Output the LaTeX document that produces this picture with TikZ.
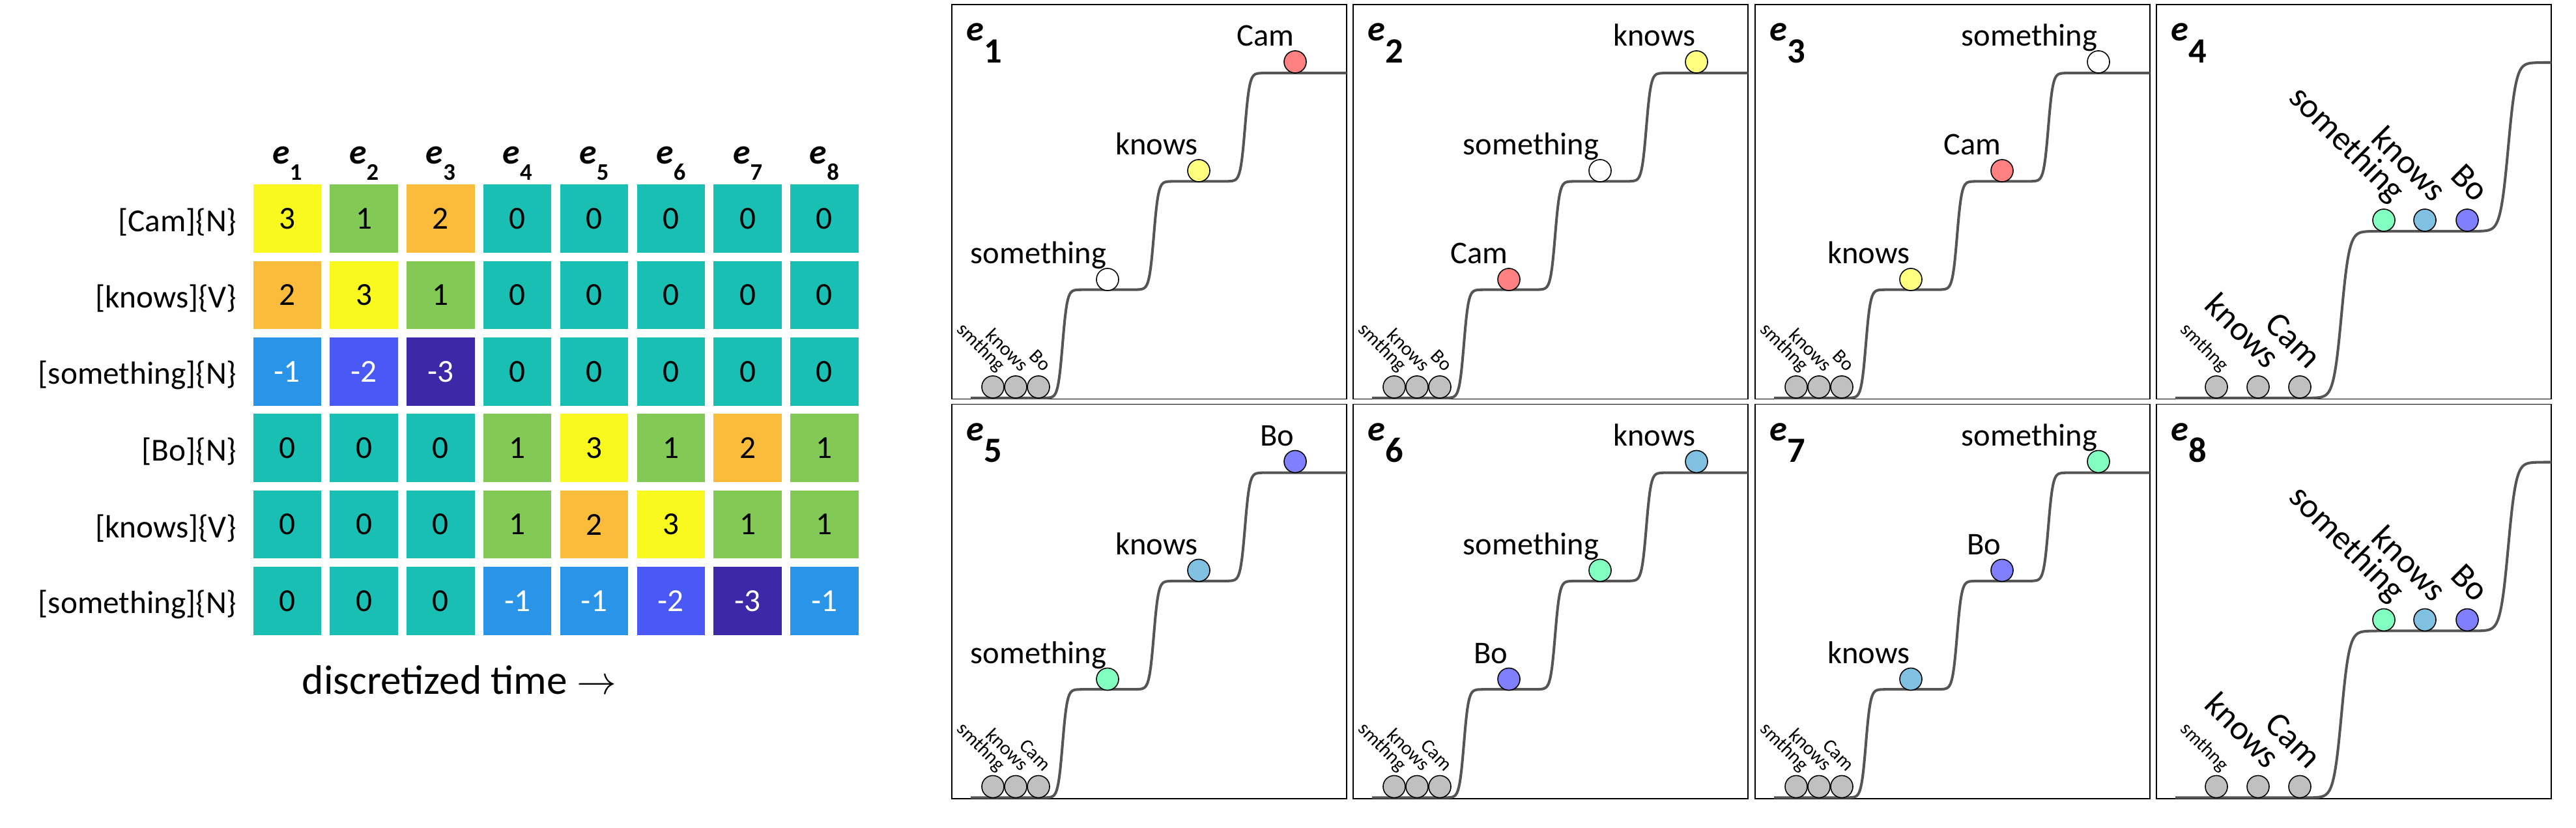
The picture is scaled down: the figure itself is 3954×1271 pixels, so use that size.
\documentclass[tikz,border=0pt]{standalone}
\usepackage{fontspec}
\setmainfont{Carlito}
\usepackage{xcolor}
\usepackage{tikz}
\usetikzlibrary{positioning}

\definecolor{valyellow}{HTML}{F9F920}
\definecolor{valorange}{HTML}{FBBC3C}
\definecolor{valgreen}{HTML}{82CA55}
\definecolor{valteal}{HTML}{19BFB3}
\definecolor{valblue}{HTML}{2A95E8}
\definecolor{valindigo}{HTML}{4A58F5}
\definecolor{valpurple}{HTML}{3D28A8}
\definecolor{ballred}{HTML}{FF8080}
\definecolor{ballyellow}{HTML}{FFFF80}
\definecolor{ballmint}{HTML}{80FFC0}
\definecolor{balllight}{HTML}{80C0E0}
\definecolor{ballviolet}{HTML}{8080FF}
\definecolor{ballgray}{HTML}{C0C0C0}
\definecolor{stairgray}{HTML}{555555}

\newcommand{\hdrlabel}[1]{{\fontsize{15.3}{18}\selectfont\itshape e}\raisebox{-7.1pt}{\fontsize{10.4}{12}\selectfont #1}}
\newcommand{\paneltitle}[1]{{\itshape e}\raisebox{-9.5pt}{#1}}

\tikzset{
  cell/.style={minimum size=1.045cm, inner sep=0pt, font=\fontsize{14}{17}\selectfont},
  val3/.style={fill=valyellow},
  val2/.style={fill=valorange},
  val1/.style={fill=valgreen},
  val0/.style={fill=valteal},
  val-1/.style={fill=valblue, text=white},
  val-2/.style={fill=valindigo, text=white},
  val-3/.style={fill=valpurple, text=white},
  rowlabel/.style={anchor=east, inner sep=0pt, font=\fontsize{14}{17}\selectfont},
  colhead/.style={anchor=base, inner sep=0pt, font=\bfseries},
  panelbox/.style={draw=black, line width=0.45pt},
  ptitle/.style={anchor=base west, inner sep=0pt, font=\fontsize{15.5}{18}\selectfont\bfseries},
  stairline/.style={draw=stairgray, line width=1.15pt, line join=round},
  ball/.style={circle, draw=black, line width=0.45pt, minimum size=0.34cm, inner sep=0pt},
  word/.style={anchor=base east, inner sep=0pt, font=\fontsize{13.8}{16}\selectfont},
  tinyword/.style={anchor=base east, inner sep=0pt, rotate=-45, font=\fontsize{8.5}{10}\selectfont},
  bigword/.style={anchor=base east, inner sep=0pt, rotate=-45, font=\fontsize{15}{18}\selectfont},
  declare function={sig(\z)=1/(1+exp(-max(-9,min(9,\z))));}
}

\begin{document}
\begin{tikzpicture}[x=0.01cm, y=-0.01cm]
  \fill[white] (0,0) rectangle (3954,1271);

  \foreach \vals [count=\r from 0] in {{3,1,2,0,0,0,0,0},{2,3,1,0,0,0,0,0},{-1,-2,-3,0,0,0,0,0},
      {0,0,0,1,3,1,2,1},{0,0,0,1,2,3,1,1},{0,0,0,-1,-1,-2,-3,-1}}
    \foreach \v [count=\c from 0] in \vals
      \node[cell, val\v] (m\r\c) at ({440.8+117.8*\c}, {335.5+117.4*\r}) {\v};
  \foreach \lab [count=\r from 0] in {{[Cam]\{N\}},{[knows]\{V\}},{[something]\{N\}},
      {[Bo]\{N\}},{[knows]\{V\}},{[something]\{N\}}}
    \node[rowlabel] (lab\r) at (364, {341+117.4*\r}) {\lab};
  \foreach \c in {1,...,8}
    \node[colhead] (head\c) at ({440.8+117.8*(\c-1)}, 252) {\hdrlabel{\c}};
  \node[anchor=base, inner sep=0pt, font=\fontsize{18}{22}\selectfont] (time) at (705,1066) {discretized time $\rightarrow$};

  \foreach \ox/\oy/\n/\wa/\ca/\wb/\cb/\wc/\cc/\wg in {
      1461/7/1/Cam/ballred/knows/ballyellow/something/white/Bo,
      2077/7/2/knows/ballyellow/something/white/Cam/ballred/Bo,
      2694/7/3/something/white/Cam/ballred/knows/ballyellow/Bo,
      1461/620.5/5/Bo/ballviolet/knows/balllight/something/ballmint/Cam,
      2077/620.5/6/knows/balllight/something/ballmint/Bo/ballviolet/Cam,
      2694/620.5/7/something/ballmint/Bo/ballviolet/knows/balllight/Cam} {
    \begin{scope}[shift={(\ox,\oy)}]
      \draw[panelbox] (0,0) rectangle (606,605.5);
      \node[ptitle] (title\n) at (22,56) {\paneltitle{\n}};
      \draw[stairline] plot[domain=29:606, samples=400]
        (\x, {604-166.3*(sig((\x-170)/3.5)+sig((\x-310)/3.5)+sig((\x-450)/3.5))});
      \node[ball, fill=\ca] (top\n) at (527,88) {};
      \node[ball, fill=\cb] (mid\n) at (379,255) {};
      \node[ball, fill=\cc] (low\n) at (239,422) {};
      \node[word] (wtop\n) at (526,64) {\wa};
      \node[word] (wmid\n) at (378,231) {\wb};
      \node[word] (wlow\n) at (238,398) {\wc};
      \foreach \gx/\gw [count=\g] in {63/smthng,98/knows,133/\wg} {
        \node[ball, fill=ballgray] (gray\n\g) at (\gx,587) {};
        \node[tinyword] (gw\n\g) at (\gx+8,565) {\gw};
      }
    \end{scope}
  }

  \foreach \oy/\n in {7/4,620.5/8} {
    \begin{scope}[shift={(3310,\oy)}]
      \draw[panelbox] (0,0) rectangle (606,605.5);
      \node[ptitle] (title\n) at (22,56) {\paneltitle{\n}};
      \draw[stairline] plot[domain=29:606, samples=400]
        (\x, {604-256*sig((\x-284)/6)-259*sig((\x-540)/6)});
      \foreach \bx/\bc/\bw [count=\b] in {349/ballmint/something,412/balllight/knows,477/ballviolet/Bo} {
        \node[ball, fill=\bc] (up\n\b) at (\bx,331) {};
        \node[bigword] (uw\n\b) at (\bx+13,306) {\bw};
      }
      \foreach \gx [count=\g] in {92,156,220}
        \node[ball, fill=ballgray] (gray\n\g) at (\gx,587) {};
      \node[tinyword] (gw\n1) at (100,565) {smthng};
      \node[bigword] (gw\n2) at (169,562) {knows};
      \node[bigword] (gw\n3) at (233,562) {Cam};
    \end{scope}
  }
\end{tikzpicture}
\end{document}
